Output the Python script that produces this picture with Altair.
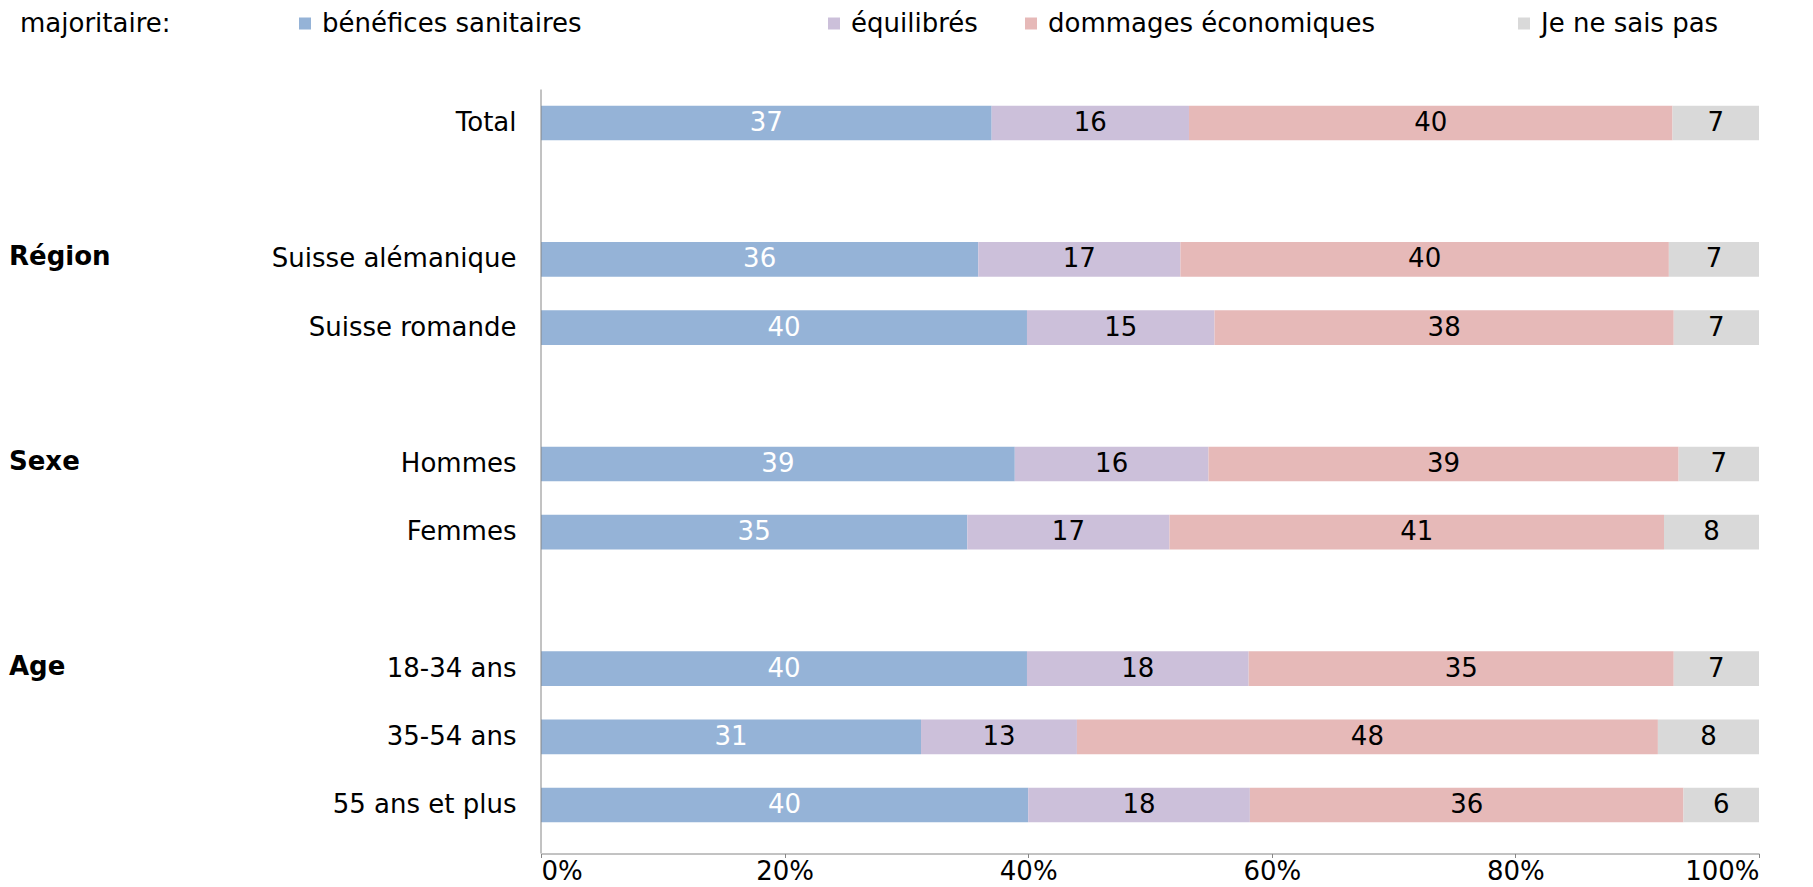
import altair as alt
import pandas as pd

categories = ["Total", "Suisse alémanique", "Suisse romande", "Hommes", "Femmes",
              "18-34 ans", "35-54 ans", "55 ans et plus"]
series = ["bénéfices sanitaires", "équilibrés", "dommages économiques", "Je ne sais pas"]
benefices = [37.0, 35.9, 39.9, 38.9, 35.0, 39.9, 31.2, 40.0]
equilibres = [16.2, 16.6, 15.4, 15.9, 16.6, 18.2, 12.8, 18.2]
dommages = [39.7, 40.1, 37.7, 38.6, 40.6, 34.9, 47.7, 35.6]
ne_sais_pas = [7.1, 7.4, 7.0, 6.6, 7.8, 7.0, 8.3, 6.2]
colors = ["#95B3D7", "#CCC0DA", "#E6B9B8", "#D9D9D9"]
row_order = ["Total", " ", "Suisse alémanique", "Suisse romande", "  ",
             "Hommes", "Femmes", "   ", "18-34 ans", "35-54 ans", "55 ans et plus"]
groups = ["Région", "Sexe", "Age"]
group_rows = ["Suisse alémanique", "Hommes", "18-34 ans"]
x_ticks = [0, 20, 40, 60, 80, 100]

FONT = "DejaVu Sans"
FS = 26
W, H = 1218, 749
AXIS_GREY = "#868686"
AXIS_OFFSET = 15

# legend entries spaced like the original (Excel spreads them unevenly):
# blank (non-trimmed) filler characters widen two entries
BLANK = "\u2800"
pad1 = " " + BLANK * 10
pad3 = BLANK * 5
legend_label_expr = (
    f"datum.label == '{series[0]}' ? datum.label + '{pad1}' : "
    f"(datum.label == '{series[2]}' ? datum.label + '{pad3}' : datum.label)"
)

rows = []
for s_idx, (s, vals) in enumerate(zip(series, [benefices, equilibres, dommages, ne_sais_pas])):
    for c, v in zip(categories, vals):
        rows.append({"cat": c, "series": s, "order": s_idx, "value": v})
df = pd.DataFrame(rows)
gdf = pd.DataFrame({"group": groups, "cat": group_rows})

yscale = alt.Scale(domain=row_order, paddingInner=0.491, paddingOuter=0.237)
xscale = alt.Scale(domain=[0, 100], nice=False)

bars = alt.Chart(df).mark_bar().encode(
    x=alt.X("value:Q", stack="zero", scale=xscale,
            axis=alt.Axis(values=x_ticks, labelExpr="datum.value + '%'", grid=False,
                          title=None, domainColor=AXIS_GREY, tickColor=AXIS_GREY,
                          tickSize=4, offset=AXIS_OFFSET, labelFontSize=FS, labelPadding=1)),
    y=alt.Y("cat:N", scale=yscale,
            axis=alt.Axis(title=None, ticks=False, domain=False, labelPadding=25,
                          labelFontSize=FS, labelLimit=600)),
    color=alt.Color("series:N", scale=alt.Scale(domain=series, range=colors),
                    legend=alt.Legend(orient="none", legendX=-521, legendY=-79,
                                      direction="horizontal", title="majoritaire:",
                                      titleOrient="left", titlePadding=121,
                                      titleFontSize=FS, titleFontWeight="normal",
                                      titleFont=FONT, titleColor="black",
                                      labelFontSize=FS, labelFont=FONT, labelColor="black",
                                      labelLimit=900, symbolType="square", symbolSize=144,
                                      symbolStrokeWidth=0, symbolOpacity=1,
                                      labelOffset=4, columnPadding=40,
                                      labelExpr=legend_label_expr)),
    order=alt.Order("order:Q"),
)

labels = alt.Chart(df).transform_stack(
    stack="value", groupby=["cat"], as_=["x0", "x1"],
    sort=[alt.SortField("order", order="ascending")],
).transform_calculate(
    mid="(datum.x0 + datum.x1) / 2"
).mark_text(font=FONT, fontSize=FS, baseline="middle", align="center").encode(
    x=alt.X("mid:Q", scale=xscale, title=None),
    y=alt.Y("cat:N", scale=yscale, title=None),
    text=alt.Text("value:Q", format=".0f"),
    color=alt.condition(alt.datum.order == 0, alt.value("white"), alt.value("black")),
)

group_text = alt.Chart(gdf).mark_text(
    font=FONT, fontSize=FS, fontWeight="bold", align="left", baseline="middle", dy=-2,
    color="black",
).encode(
    y=alt.Y("cat:N", scale=yscale, title=None),
    x=alt.value(-532),
    text="group:N",
)

yline = alt.Chart(pd.DataFrame({"a": [0]})).mark_rule(color=AXIS_GREY, strokeWidth=1).encode(
    x=alt.value(0), y=alt.value(0), y2=alt.value(H + AXIS_OFFSET)
)

chart = alt.layer(bars, labels, group_text, yline).properties(
    width=W, height=H,
    autosize=alt.AutoSizeParams(type="none"),
    padding={"left": 533, "top": 81.5, "right": 46, "bottom": 48.5},
).configure_view(stroke=None).configure_axis(
    labelFont=FONT, labelColor="black"
).configure_text(font=FONT)

chart.save("out.html", embed_options={"renderer": "svg", "actions": False})
